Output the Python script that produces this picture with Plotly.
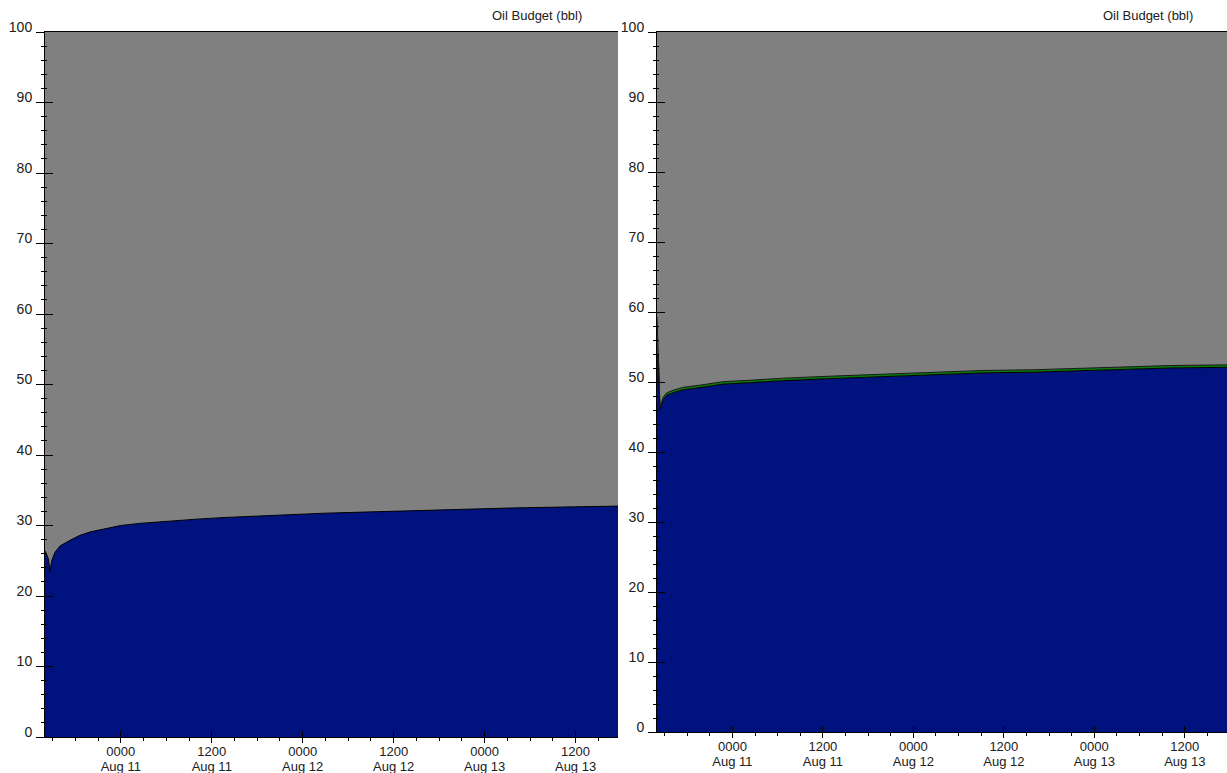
import plotly.graph_objects as go
import pandas as pd

# ---------------- data ----------------
start_time = "2010-08-10 14:00"
end_hours = 75.6

left_hours = [0, 0.44, 0.66, 0.88, 1.32, 1.98, 3.3, 4.6, 6.0, 8.0, 10.0, 12.5, 16.0, 20.0,
              24.0, 28.0, 32.0, 37.0, 42.0, 48.0, 54.0, 62.0, 70.0, 75.6]
left_floating = [26.4, 25.3, 23.5, 25.0, 26.2, 27.1, 27.9, 28.6, 29.1, 29.6, 30.0, 30.3, 30.6, 30.9,
                 31.15, 31.35, 31.55, 31.75, 31.9, 32.1, 32.3, 32.5, 32.65, 32.75]

right_hours = [0, 0.18, 0.3, 0.4, 0.84, 1.28, 2.2, 3.5, 5.7, 8.8, 12.3, 16.8, 23.4, 30.0,
               36.6, 43.3, 49.9, 56.5, 63.2, 68.0, 75.6]
right_floating = [54.1, 53.7, 49.0, 46.1, 47.5, 48.1, 48.5, 48.9, 49.2, 49.7, 49.9, 50.2, 50.5, 50.8,
                  51.1, 51.3, 51.4, 51.6, 51.8, 52.0, 52.1]
right_other = [5.2, 0.4, 0.35, 0.35, 0.35, 0.35, 0.35, 0.35, 0.35, 0.35, 0.35, 0.35, 0.35, 0.35,
               0.35, 0.35, 0.35, 0.35, 0.35, 0.35, 0.35]

panel_title = "Oil Budget (bbl)"
y_range = [0, 100]
time_format = "%H%M"
date_format = "%b %d"

# ---------------- styling ----------------
W, H = 1227, 773
BLUE = "#00127E"
GREEN = "#0B7A0B"
GRAY = "#808080"
FAMILY = "Liberation Sans, Arial, sans-serif"
FONT = dict(family=FAMILY, size=14, color="#202020")
XFONT = dict(family=FAMILY, size=13, color="#202020")

start = pd.Timestamp(start_time)


def to_time(hours):
    return [start + pd.Timedelta(hours=h) for h in hours]


x_range = [start, start + pd.Timedelta(hours=end_hours)]
MAJOR = 12 * 3600 * 1000
MINOR = 3 * 3600 * 1000
TICK0 = "2010-08-11 00:00"

fig = go.Figure()

# left panel
fig.add_trace(go.Scatter(x=to_time(left_hours), y=left_floating, mode="lines",
                         fill="tozeroy", fillcolor=BLUE, line=dict(color="black", width=1),
                         xaxis="x", yaxis="y", showlegend=False, hoverinfo="skip"))
# right panel (stacked)
fig.add_trace(go.Scatter(x=to_time(right_hours), y=right_floating, mode="lines",
                         stackgroup="r", fillcolor=BLUE, line=dict(color="black", width=1),
                         xaxis="x2", yaxis="y2", showlegend=False, hoverinfo="skip"))
fig.add_trace(go.Scatter(x=to_time(right_hours), y=right_other, mode="lines",
                         stackgroup="r", fillcolor=GREEN, line=dict(color="#1a1a1a", width=1),
                         xaxis="x2", yaxis="y2", showlegend=False, hoverinfo="skip"))

# empty traces so overlay axes (crossing ticks / date line) are drawn
for xa, ya in [("x3", "y"), ("x", "y3"), ("x4", "y2"), ("x2", "y4")]:
    fig.add_trace(go.Scatter(x=[], y=[], xaxis=xa, yaxis=ya, showlegend=False, hoverinfo="skip"))

left_dom = [45 / W, 618 / W]
right_dom = [657 / W, 1.0]
left_ydom = [(H - 737) / H, (H - 32) / H]
right_ydom = [(H - 732) / H, (H - 32) / H]


def xaxis(domain, anchor):
    # time-of-day labels, crossing (inside) major ticks, outside minor ticks
    return dict(domain=domain, anchor=anchor, type="date", range=x_range,
                showline=True, linecolor="black", linewidth=1, mirror=True,
                ticks="inside", ticklen=6, tickcolor="black", tickwidth=1,
                tick0=TICK0, dtick=MAJOR, tickformat=time_format, tickfont=XFONT,
                ticklabelstandoff=2,
                showgrid=False, zeroline=False,
                minor=dict(dtick=MINOR, ticks="outside", ticklen=3,
                           tickcolor="black", showgrid=False),
                automargin=False, fixedrange=True)


def x_overlay(over, anchor):
    # outside major ticks + date labels as the second line
    return dict(overlaying=over, anchor=anchor, type="date", range=x_range,
                showline=False, ticks="outside", ticklen=5, tickcolor="black",
                tick0=TICK0, dtick=MAJOR, tickformat=date_format, tickfont=XFONT,
                ticklabelstandoff=12,
                showgrid=False, zeroline=False,
                automargin=False, fixedrange=True)


def yaxis(domain, anchor):
    return dict(domain=domain, anchor=anchor, range=y_range, dtick=10, tick0=0,
                showline=True, linecolor="black", linewidth=1,
                ticks="outside", ticklen=8, tickcolor="black", tickwidth=1,
                tickfont=FONT, showgrid=False, zeroline=False,
                ticklabelshift=-5, ticklabelstandoff=1,
                minor=dict(dtick=2, ticks="outside", ticklen=3, tickcolor="black", showgrid=False),
                automargin=False, fixedrange=True)


def y_overlay(over, anchor):
    return dict(overlaying=over, anchor=anchor, range=y_range, dtick=10, tick0=0,
                showline=False, ticks="inside", ticklen=8, tickcolor="black",
                showticklabels=False, showgrid=False, zeroline=False,
                minor=dict(dtick=2, ticks="inside", ticklen=2, tickcolor="black", showgrid=False),
                automargin=False, fixedrange=True)


fig.update_layout(
    width=W, height=H,
    margin=dict(l=0, r=0, t=0, b=0),
    paper_bgcolor="white",
    plot_bgcolor=GRAY,
    xaxis=xaxis(left_dom, "y"),
    yaxis=yaxis(left_ydom, "x"),
    xaxis2=xaxis(right_dom, "y2"),
    yaxis2=yaxis(right_ydom, "x2"),
    xaxis3=x_overlay("x", "y"),
    yaxis3=y_overlay("y", "x"),
    xaxis4=x_overlay("x2", "y2"),
    yaxis4=y_overlay("y2", "x2"),
    showlegend=False,
    annotations=[
        dict(text=panel_title, x=537 / W, y=(H - 15) / H, xref="paper", yref="paper",
             showarrow=False, xanchor="center", yanchor="middle",
             font=dict(family=FAMILY, size=13, color="#202020")),
        dict(text=panel_title, x=1148 / W, y=(H - 15) / H, xref="paper", yref="paper",
             showarrow=False, xanchor="center", yanchor="middle",
             font=dict(family=FAMILY, size=13, color="#202020")),
    ],
)

fig.write_html(
    "out.html",
    config={"displayModeBar": False},
    post_script="document.body.style.margin='0';document.body.style.overflow='hidden';",
)
